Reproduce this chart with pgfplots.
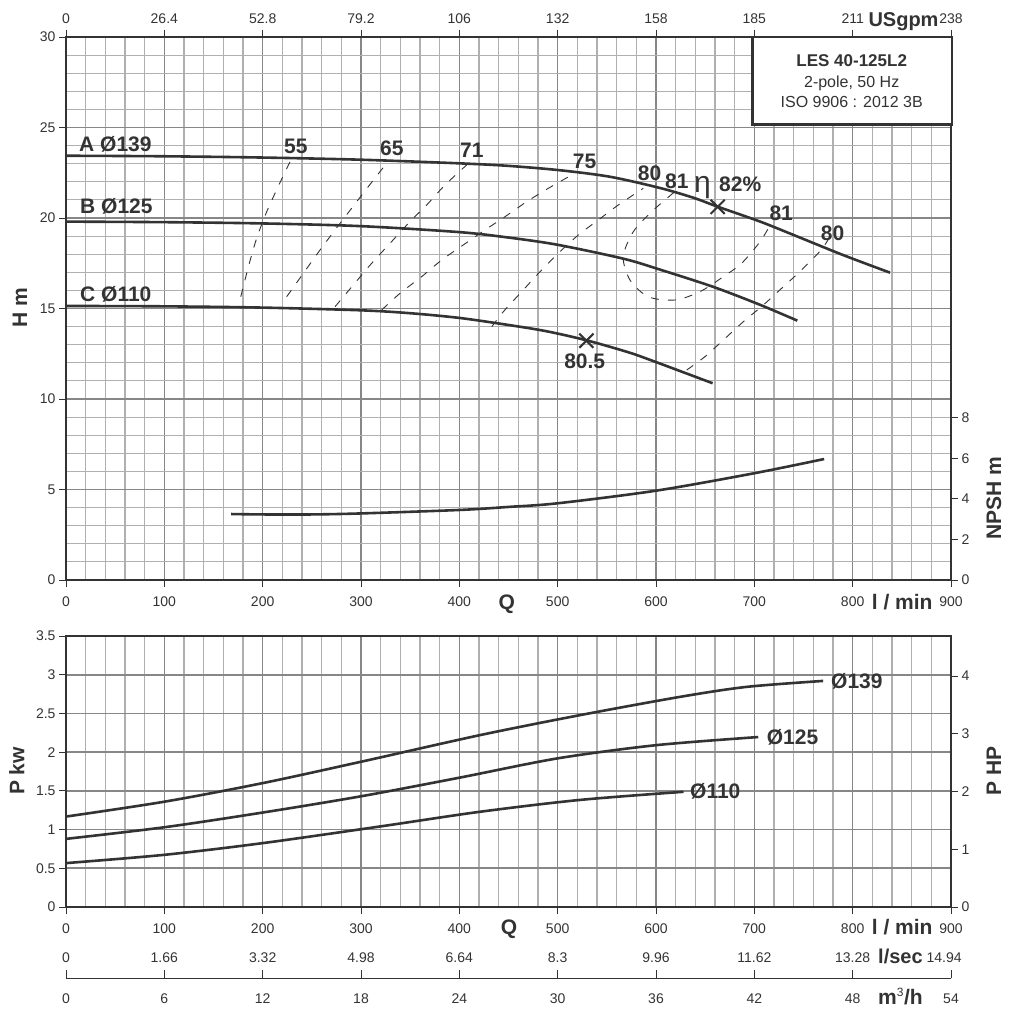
\documentclass[border=0pt]{standalone}
\usepackage{pgfplots}
\pgfplotsset{compat=1.18}
\usepackage{fontspec}
\setmainfont{Liberation Sans}

\definecolor{ink}{HTML}{333333}
\definecolor{gmaj}{HTML}{878787}
\definecolor{gmin}{HTML}{B0B0B0}

\newcommand\tl{\fontsize{14}{16}\selectfont}
\newcommand\bl{\fontsize{21}{24}\selectfont\bfseries}

\pgfplotsset{
  pump/.style={
    scale only axis, width=885pt,
    xmin=0, xmax=900,
    xtick={0,100,...,900},
    minor x tick num=4,
    grid=both,
    major grid style={gmaj, line width=1.6pt},
    minor grid style={gmin, line width=1.1pt},
    axis line style={ink, line width=2.4pt},
    tick style={ink, line width=1pt},
    tick align=outside,
    major tick length=7pt,
    minor tick length=0pt,
    xtick pos=left, ytick pos=left,
    ticklabel style={font=\tl, text=ink},
    xticklabel style={yshift=-6pt},
    /pgf/number format/assume math mode=true,
  },
  over/.style={
    scale only axis, width=885pt,
    xmin=0, xmax=900,
    axis line style={draw=none},
    tick style={ink, line width=1pt},
    tick align=outside,
    major tick length=7pt,
    ticklabel style={font=\tl, text=ink},
    /pgf/number format/assume math mode=true,
  },
  curve/.style={ink, line width=2.6pt, smooth},
  eff/.style={ink, line width=0.9pt, dash pattern=on 8pt off 9pt, smooth},
}

\begin{document}
\begin{tikzpicture}

% ---- head curves ----
\begin{axis}[pump, at={(66pt,-580pt)}, anchor=south west, height=543pt,
  ymin=0, ymax=30, ytick={0,5,...,30}, minor y tick num=4]
  % A 139
  \addplot[curve] coordinates {(0,23.44)(100,23.41)(200,23.34)(300,23.22)(400,23.02)(450,22.88)
    (502,22.64)(553,22.28)(604,21.66)(638,21.12)(662,20.64)(706,19.80)(740,19.06)(790,17.96)(838,16.98)};
  % B 125
  \addplot[curve] coordinates {(0,19.8)(100,19.77)(200,19.7)(300,19.55)(400,19.22)(450,18.92)
    (500,18.52)(567,17.75)(604,17.15)(658,16.2)(706,15.2)(743.7,14.33)};
  % C 110
  \addplot[curve] coordinates {(0,15.14)(100,15.12)(200,15.05)(300,14.9)(350,14.74)(400,14.48)
    (450,14.09)(489,13.74)(529.5,13.24)(572,12.58)(600,12.04)(657.6,10.87)};
  % efficiency lines
  \addplot[eff] coordinates {(177.7,15.65)(185.8,17.37)(193.9,18.88)(203.7,20.29)(214.9,21.64)(229.5,23.3)};
  \addplot[eff] coordinates {(224.4,15.65)(241.3,16.94)(258.3,18.23)(273.6,19.34)(290.5,20.54)(307.4,21.73)(327.8,23.15)};
  \addplot[eff] coordinates {(273.6,15.10)(292.2,16.30)(310.9,17.50)(329.5,18.60)(349.8,19.80)(366.8,20.72)(385.4,21.82)(407.5,22.93)};
  \addplot[eff] coordinates {(321.1,14.92)(339.7,15.84)(361.7,16.76)(382.1,17.68)(404.0,18.51)(426.1,19.34)
    (446.4,20.07)(468.5,20.90)(490.5,21.64)(512.5,22.32)};
  \addplot[eff] coordinates {(432.9,13.99)(444.7,14.82)(463.4,15.93)(482.0,17.03)(500.6,18.05)(521.0,19.06)
    (541.3,19.89)(561.7,20.72)(587.1,21.64)};
  \addplot[eff] coordinates {(618,21.4)(595.6,20.35)(576.9,19.24)(566.7,17.86)(573.6,16.57)(592.2,15.65)
    (619.3,15.47)(644.7,15.93)(668.5,16.76)(687.1,17.50)(705.8,18.69)(716,19.6)};
  \addplot[eff] coordinates {(631.2,11.60)(649.8,12.34)(668.5,13.26)(688.8,14.27)(709.1,15.19)(727.8,16.12)
    (746.1,17.03)(766.4,18.14)(774.9,18.78)};
  % best efficiency points
  \addplot[only marks, mark=x, mark size=10pt, mark options={ink, line width=2pt}]
    coordinates {(662.7,20.62)(529.2,13.22)};
\end{axis}

% ---- NPSH and USgpm ----
\begin{axis}[over, at={(66pt,-580pt)}, anchor=south west, height=543pt,
  ymin=0, ymax=26.75, ytick={0,2,4,6,8},
  xtick={0,100,...,900},
  xticklabels={0,26.4,52.8,79.2,106,132,158,185,211,238},
  xtick pos=right, xticklabel pos=right, ytick pos=right, yticklabel pos=right,
  xticklabel style={yshift=2.5pt}]
  \addplot[curve] coordinates {(168,3.25)(200,3.23)(250,3.23)(300,3.28)(400,3.45)(450,3.6)
    (500,3.78)(600,4.40)(700,5.26)(771,5.96)};
\end{axis}

% ---- power ----
\begin{axis}[pump, at={(66pt,-907pt)}, anchor=south west, height=271pt,
  ymin=0, ymax=3.5, ytick={0,0.5,1,1.5,2,2.5,3,3.5}]
  \addplot[curve] coordinates {(0,1.168)(100,1.36)(200,1.60)(300,1.876)(421,2.22)(522.7,2.478)
    (624.4,2.714)(692.2,2.843)(770,2.92)};
  \addplot[curve] coordinates {(0,0.88)(100,1.03)(200,1.22)(300,1.43)(400,1.67)(500,1.92)
    (600,2.09)(704,2.195)};
  \addplot[curve] coordinates {(0,0.567)(100,0.674)(200,0.825)(319.3,1.04)(421,1.23)(522.7,1.383)
    (628,1.488)};
\end{axis}

\begin{axis}[over, at={(66pt,-907pt)}, anchor=south west, height=271pt,
  ymin=0, ymax=4.6935, ytick={0,1,2,3,4}, xtick=\empty,
  ytick pos=right, yticklabel pos=right]
\end{axis}

% ---- l/sec row ----
\begin{axis}[over, at={(66pt,-957.7pt)}, anchor=south west, height=1pt,
  ymin=0, ymax=1, hide y axis, major tick length=0pt,
  xtick={0,100,...,800,893},
  xticklabels={0,1.66,3.32,4.98,6.64,8.3,9.96,11.62,13.28,14.94},
  xticklabel style={anchor=center}]
\end{axis}

% ---- m3/h row ----
\begin{axis}[over, at={(66pt,-978.3pt)}, anchor=south west, height=1pt,
  xmin=0, xmax=54, ymin=0, ymax=1, hide y axis,
  xtick={0,6,...,54}, tick align=inside, major tick length=8pt,
  xtick pos=left, xticklabel style={yshift=-12pt}]
  \draw[ink, line width=1.2pt] (rel axis cs:0,0) -- (rel axis cs:1,0);
\end{axis}

% ---- labels ----
\begin{scope}[every node/.style={text=ink, inner sep=0pt}]
\node[font=\bl, anchor=base west] at (79pt,-151.7pt) {A Ø139};
\node[font=\bl, anchor=base west] at (80pt,-213.3pt) {B Ø125};
\node[font=\bl, anchor=base west] at (80pt,-301.7pt) {C Ø110};
\node[font=\bl, anchor=base west] at (284pt,-153.3pt) {55};
\node[font=\bl, anchor=base west] at (380pt,-155pt) {65};
\node[font=\bl, anchor=base west] at (460pt,-157.7pt) {71};
\node[font=\bl, anchor=base west] at (572.7pt,-168.3pt) {75};
\node[font=\bl, anchor=base west] at (637.7pt,-180pt) {80};
\node[font=\bl, anchor=base west] at (665pt,-188.3pt) {81};
\node[font=\fontsize{30}{32}\selectfont, anchor=base west] at (694pt,-192.7pt) {η};
\node[font=\bl, anchor=base west] at (719pt,-191.7pt) {82\%};
\node[font=\bl, anchor=base west] at (769.3pt,-220.7pt) {81};
\node[font=\bl, anchor=base west] at (820.7pt,-240.7pt) {80};
\node[font=\bl, anchor=base] at (584.7pt,-368.3pt) {80.5};
\node[font=\bl, anchor=base west] at (831pt,-688.3pt) {Ø139};
\node[font=\bl, anchor=base west] at (766.7pt,-744pt) {Ø125};
\node[font=\bl, anchor=base west] at (690pt,-798.3pt) {Ø110};

\node[font=\bl, rotate=90] at (20pt,-307.5pt) {H m};
\node[font=\bl, rotate=90] at (994pt,-498pt) {NPSH m};
\node[font=\bl, rotate=90] at (16.7pt,-771pt) {P kw};
\node[font=\bl, rotate=90] at (994pt,-771pt) {P HP};

\node[font=\bl, anchor=base] at (506.7pt,-609pt) {Q};
\node[font=\bl, anchor=base west] at (871.7pt,-609.3pt) {l / min};
\node[font=\bl, anchor=base] at (509pt,-934pt) {Q};
\node[font=\bl, anchor=base west] at (871.7pt,-934pt) {l / min};
\node[font=\fontsize{20}{24}\selectfont\bfseries, anchor=base west] at (878pt,-963pt) {l/sec};
\node[font=\bl, anchor=base west] at (878pt,-1004pt) {m\textsuperscript{\fontsize{12}{12}\selectfont\mdseries 3}/h};
\node[font=\fontsize{20}{24}\selectfont\bfseries, anchor=base west] at (868.3pt,-27pt) {USgpm};

\draw[ink, line width=2.4pt, fill=white] (752.3pt,-37.3pt) rectangle (951.7pt,-124.3pt);
\node[font=\fontsize{17}{20}\selectfont\bfseries, anchor=base] at (851.7pt,-66.7pt) {LES 40-125L2};
\node[font=\fontsize{16}{20}\selectfont, anchor=base] at (851.7pt,-87.3pt) {2-pole, 50 Hz};
\node[font=\fontsize{16}{20}\selectfont, anchor=base] at (851.7pt,-107.7pt) {ISO 9906 : 2012 3B};
\end{scope}

\pgfresetboundingbox
\useasboundingbox (0,0) rectangle (1019pt,-1025pt);
\end{tikzpicture}
\end{document}
